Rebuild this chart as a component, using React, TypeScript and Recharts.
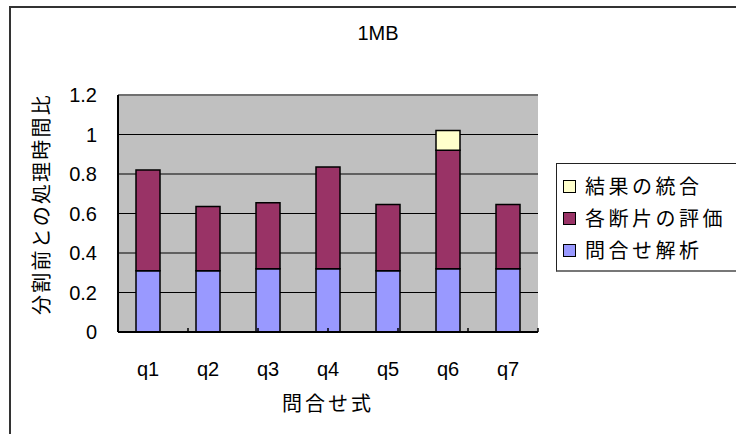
import { Bar, BarChart, CartesianGrid, Legend, ReferenceLine, XAxis, YAxis } from "recharts";

const categories = ["q1", "q2", "q3", "q4", "q5", "q6", "q7"];
// 問合せ解析 (bottom of each stack)
const parseTime = [0.31, 0.31, 0.32, 0.32, 0.31, 0.32, 0.32];
// 各断片の評価
const evalTime = [0.51, 0.325, 0.335, 0.515, 0.335, 0.6, 0.325];
// 結果の統合 (only q6 has a visible share)
const mergeTime = [0, 0, 0, 0, 0, 0.1, 0];
const yTicks = [0, 0.2, 0.4, 0.6, 0.8, 1, 1.2];
const boundaryTicks = [1, 2, 3, 4, 5, 6];

const series = [
    { key: "parse", name: "問合せ解析", fill: "#9999FF" },
    { key: "eval", name: "各断片の評価", fill: "#993366" },
    { key: "merge", name: "結果の統合", fill: "#FFFFCC" },
];

const data = categories.map((q, i) => ({
    q,
    parse: parseTime[i],
    eval: evalTime[i],
    merge: mergeTime[i],
}));

const latin = "'Liberation Sans', Arial, sans-serif";
const cjk = "'Noto Sans CJK JP', sans-serif";

const LegendBox = () => (
    <div
        style={{
            border: "1px solid #222",
            borderBottom: "2px solid #777",
            background: "#fff",
            padding: "6px 0 0 6px",
            boxSizing: "border-box",
            height: 109,
        }}
    >
        {[...series].reverse().map((s) => (
            <div key={s.key} style={{ display: "flex", alignItems: "center", height: 32 }}>
                <span
                    style={{
                        display: "inline-block",
                        width: 11,
                        height: 11,
                        background: s.fill,
                        border: "1px solid #000",
                        marginRight: 9,
                    }}
                />
                <span style={{ fontFamily: cjk, fontSize: 20, letterSpacing: 3.5, color: "#000", lineHeight: 1 }}>{s.name}</span>
            </div>
        ))}
    </div>
);

export default function App() {
    return (
        <div style={{ position: "absolute", left: 0, top: 0, width: 736, height: 434, background: "#fff", overflow: "hidden" }}>
            {/* chart frame, runs off the right and bottom edges */}
            <div style={{ position: "absolute", left: 9, top: 6, width: 800, height: 500, borderTop: "2px solid #333", borderLeft: "2px solid #333" }} />
            <div style={{ position: "absolute", left: 0, top: 22, width: 756, textAlign: "center", fontFamily: latin, fontSize: 20, color: "#000" }}>1MB</div>
            <div style={{ position: "absolute", left: 0, top: 0 }}>
                <BarChart
                    width={736}
                    height={434}
                    data={data}
                    margin={{ top: 95, right: 198, bottom: 72, left: 78 }}
                    barCategoryGap="30%"
                >
                    <CartesianGrid vertical={false} fill="#C0C0C0" stroke="#000" strokeOpacity={1} />
                    {/* helper axis spanning the categories 0..7, used for the boundary ticks and right border */}
                    <XAxis xAxisId="tk" type="number" domain={[0, 7]} height={0} hide />
                    <XAxis
                        dataKey="q"
                        height={30}
                        axisLine={{ stroke: "#000", strokeWidth: 2 }}
                        tickLine={false}
                        tickSize={6}
                        tickMargin={24}
                        tick={{ fill: "#000", fontSize: 20, fontFamily: latin }}
                        label={{
                            content: () => (
                                <text x={328} y={411} textAnchor="middle" fontFamily={cjk} fontSize={20} letterSpacing={3} fill="#000">
                                    問合せ式
                                </text>
                            ),
                        }}
                    />
                    <YAxis
                        width={40}
                        domain={[0, 1.2]}
                        ticks={yTicks}
                        axisLine={{ stroke: "#000", strokeWidth: 2 }}
                        tickLine={false}
                        tickSize={6}
                        tickMargin={15}
                        tick={{ fill: "#000", fontSize: 20, fontFamily: latin }}
                        label={{
                            content: () => (
                                <text
                                    x={49}
                                    y={204}
                                    transform="rotate(-90 49 204)"
                                    textAnchor="middle"
                                    fontFamily={cjk}
                                    fontSize={20}
                                    letterSpacing={2.2}
                                    fill="#000"
                                >
                                    分割前との処理時間比
                                </text>
                            ),
                        }}
                    />
                    <ReferenceLine y={1.2} stroke="#707070" strokeWidth={2} />
                    <ReferenceLine xAxisId="tk" x={7} stroke="#808080" strokeWidth={2} />
                    {boundaryTicks.map((b) => (
                        <ReferenceLine
                            key={b}
                            xAxisId="tk"
                            segment={[
                                { x: b, y: 0 },
                                { x: b, y: 0.02 },
                            ]}
                            stroke="#000"
                            strokeWidth={1.5}
                        />
                    ))}
                    {series.map((s) => (
                        <Bar
                            key={s.key}
                            dataKey={s.key}
                            name={s.name}
                            stackId="t"
                            fill={s.fill}
                            stroke="#000"
                            strokeWidth={1.5}
                            isAnimationActive={false}
                        />
                    ))}
                    <Legend
                        layout="horizontal"
                        verticalAlign="middle"
                        align="center"
                        content={<LegendBox />}
                        wrapperStyle={{ position: "absolute", left: 556, top: 163, width: 195, height: 109 }}
                    />
                </BarChart>
            </div>
        </div>
    );
}
